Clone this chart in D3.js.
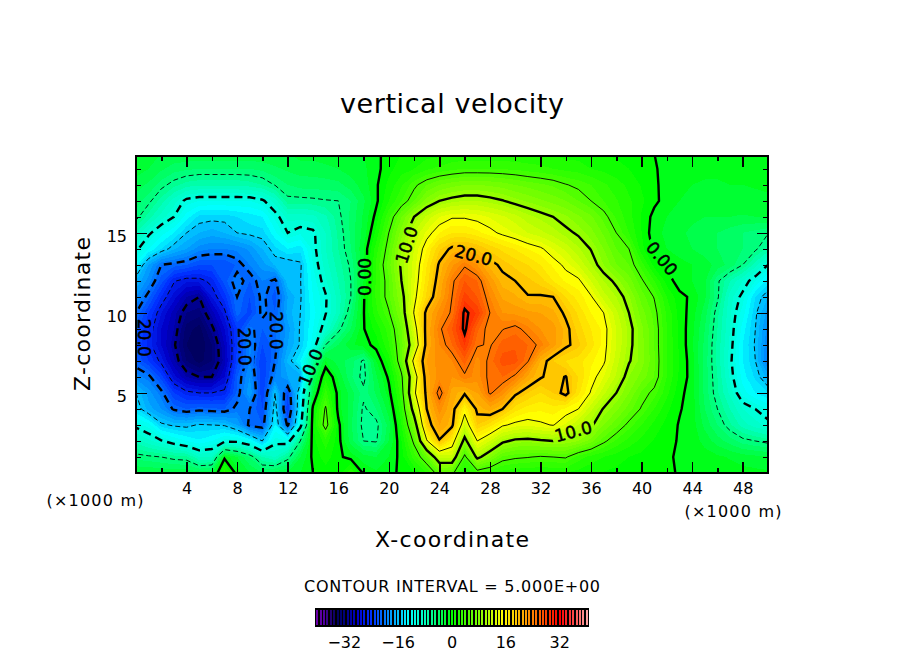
<!DOCTYPE html>
<html>
<head>
<meta charset="utf-8">
<title>vertical velocity</title>
<script src="https://cdn.jsdelivr.net/npm/d3@7"></script>
<style>
  html, body { margin: 0; background: #fff; }
  svg { display: block; }
  text { font-family: "DejaVu Sans", sans-serif; fill: #000; }
  .axis path { display: none; }
  .axis line { stroke: #000; stroke-width: 1.5; shape-rendering: crispEdges; }
  .axis text { font-size: 16px; }
</style>
</head>
<body>
<svg id="chart" width="904" height="654"></svg>
<script>
// grid rows, x = 0..50 km every 1 km, one row per km of height
var z20 = [-1,-1,-2,-2,-2,-2,-2,-2,-2,-2,-2,-2,-2,-1.5,-1.5,-1.5,-1,-1,-1,-.3,.5,1,1.2,1.5,1.5,2,2,2,2,2,2,2,2,1.8,1.5,1.5,1.2,1,.8,.5,.3,0,-.2,-.3,-.5,-.5,-.5,-.5,-.5,-.5,-.5];
var z19 = [-1.5,-2,-2.8,-3.5,-3.8,-4,-4,-4,-4,-4,-3.7,-3.2,-2.8,-2.5,-2.5,-2.2,-2,-1.5,-1.2,-.4,.7,1.5,2,2.8,3.3,3.7,4,4,4,3.9,3.8,3.5,3.3,3,2.7,2.5,2,1.7,1.3,1,.6,.1,-.3,-.6,-.8,-.8,-.8,-.7,-.6,-.5,-.5];
var z18 = [-2.5,-3.2,-4.5,-5.6,-6.5,-6.8,-6.8,-6.8,-6.8,-6.5,-6,-4.9,-4,-3.6,-3.5,-3.5,-3.3,-2.5,-1.5,-.2,1.3,2.8,4.6,6,7,7.6,8,8,7.8,7.5,7,6.6,6.2,5.8,5.1,4.6,4,3.2,2.5,1.7,.9,.2,-.4,-.8,-1,-1.1,-1.1,-1,-1,-.9,-.8];
var z17 = [-3.5,-4.6,-6.5,-8.5,-10.5,-11,-11,-11,-11,-11,-10.3,-8.5,-5.4,-5.4,-5.3,-5.1,-5,-4,-2.2,-.3,2,4,6,8.5,10,10.6,11,11,10.6,10.1,9.4,8.8,8.2,7.6,7,6,5,4,3.1,2.2,1.2,.3,-.5,-1,-1.3,-1.5,-1.5,-1.4,-1.4,-1.3,-1.2];
var z16 = [-4.5,-6.5,-8.5,-10,-12.5,-14.3,-14.5,-14.5,-14,-13.5,-13,-10.7,-8.6,-8.6,-8.3,-7.2,-5.4,-3.7,-1.8,.4,3.8,7,10,12.3,14,14.8,14.8,14.5,13.9,13.2,12.4,11.4,10.7,10,9.2,8.2,7.2,5.6,3.8,2.4,.9,-.4,-1,-1.5,-1.8,-2,-2,-2,-2.1,-2,-1.8];
var z15 = [-7,-9.6,-11.5,-13,-15,-16,-16.5,-16,-15,-14.6,-14.4,-12.3,-10,-10.8,-10.4,-8,-5.8,-3.8,-1.6,1.3,5,8.5,12,14.3,16,17,17,16.3,15.5,14.6,13.9,13,12.3,11.5,10.5,9.7,8.4,6.8,5,3,1,-.7,-1.2,-1.8,-2.2,-2.6,-3,-3.5,-4,-4.4,-4.9];
var z14 = [-9.5,-12,-14,-15.8,-17,-18.5,-19,-19,-18.7,-17.7,-16,-14.3,-13,-13.6,-10.6,-8,-6,-4,-1,2.5,5.8,10,13,16,18.8,20.4,20.7,20,18.7,17.7,16.9,16,15.3,14,12.7,11.2,9.9,8,6,5,1.3,-.3,-1,-1.5,-2,-2.5,-3,-3.5,-4,-4.7,-6.4];
var z13 = [-12.5,-17,-20,-20.5,-21,-22,-22,-22,-20.8,-19,-17.5,-15.8,-16,-15.3,-11,-8.5,-6.5,-4.7,-1.2,3.2,6.5,10.4,13.5,17,20.3,22.7,24.7,23,20.6,19.6,18.7,18,17,15.8,14.6,13,11,9,7.1,6,3.5,.6,-.2,-.6,-1,-1.5,-2.4,-3.4,-5,-7.5,-10];
var z12 = [-16,-18.5,-21.5,-24.8,-25.8,-25.6,-24.5,-21.5,-19,-21,-19,-20.5,-15.3,-15.1,-11.6,-9.2,-7,-5,-1,3.2,5.8,10,13.8,17.5,21,24.6,27,26,22.7,20.5,20,19.3,18.5,17,15.8,15.4,13,11,9.5,7.5,5.3,3,.5,-.5,-1,-1.8,-4.7,-7,-9,-11,-13.5];
var z11 = [-18,-20.7,-24,-26.5,-29,-30,-26,-23.5,-20,-22,-19.5,-21.5,-17,-15.2,-12,-10.2,-7.5,-5,-.2,3.2,5.8,9,14.3,18.3,21.7,25,28.5,27,24,21.8,21.2,20.1,20.2,20,18,16.5,15.2,12.5,11,9.2,6.5,4.9,2,.3,-.2,-1.8,-4.7,-8.5,-10.5,-14,-16];
var z10 = [-20,-23,-26,-28.5,-31,-31.5,-28.5,-25.5,-20.5,-22.5,-19.5,-21,-16.5,-15,-12.5,-10.1,-7.5,-4,-.1,2.7,4.8,8.2,15.2,20.7,23.5,25.3,30.5,28.8,25,23,22.7,22.3,22,21.3,19.6,17.8,16,15,12.3,10,7.5,5.6,2.8,.6,-.5,-2.5,-5.7,-8.8,-11.5,-14.7,-17.5];
var z9 = [-21.5,-24,-27,-29,-32.5,-33.5,-30.5,-27,-23,-19.5,-21,-20,-17.5,-14.8,-12,-9,-5.5,-3,-.1,1.4,3.5,7,13.5,21,24.6,27,30.5,26.3,24.2,24.9,25.6,24.3,23,22.5,20.6,18.5,17,15.7,13,10.7,8.3,6,3,.7,-.7,-3,-6,-9,-12.5,-15,-18.5];
var z8 = [-22,-24.4,-27,-29.7,-33,-34,-32,-28,-23,-18.5,-22,-20.5,-17,-14.8,-11.5,-5,-3,-1.2,-.5,.4,2.9,6.5,12,21,24,26,29,25.2,24.8,26.5,26.8,26,24.5,22.5,20.4,19.3,17.5,15.6,13,10.6,8.4,6,3,.8,-.8,-3.3,-6.3,-9.3,-13,-15.2,-19];
var z7 = [-21,-23,-25.5,-28.8,-32,-33.5,-32,-28.5,-22.5,-19,-23,-20,-15.8,-13,-6,-1,-2.5,-3.5,-5.3,-1,1.4,6.5,16,22,23.5,24,26.5,23.5,25.5,27.5,27.5,25.2,21,19,18,17.5,16.2,15.3,12.5,10.2,8.5,6.2,3,.9,-.6,-3.4,-6.3,-9.6,-13,-15,-19.5];
var z6 = [-18.5,-19.5,-22.5,-26.5,-29,-30,-30,-27,-21,-18,-23,-19,-17,-16.5,-3.5,1.5,-1.2,-3.8,-5.5,-2.2,.3,4.5,13,21.5,23.5,23,24.6,23.5,25.5,26,24.6,21.7,20.2,19.3,20.1,18,15.7,14,11.8,9,7.6,6,3,.8,-.5,-3.4,-6,-9.2,-12.5,-14.2,-16.5];
var z5 = [-15,-17.5,-19.5,-23,-24.5,-25,-25,-24.5,-20.8,-17,-23,-15,-22,-13,-2,3.5,-.5,-2.5,-4.6,-2.8,-.5,3.7,14.3,20.7,26,21.5,20.3,22,25.3,23.5,20.4,19,18,19,20.7,17.3,14.8,12.3,10,8,5.8,4.5,2.3,.3,-.5,-3.3,-5.8,-8.3,-11.5,-13,-14];
var z4 = [-14,-16.5,-18,-20.3,-21,-20.5,-20.8,-21,-19.5,-20,-22,-14,-23,-12.5,.5,5.3,-.5,-2.5,-5.3,-4,-1.5,2.8,11.5,20,23.5,21,16,20.5,21.5,20,17.5,16.5,16.2,16.5,15.8,15,12.3,9.8,8.3,6.5,4.8,3,1.3,.1,-.5,-3,-5,-7,-9,-10,-11];
var z3 = [-10.5,-11.5,-14.6,-15.3,-15.5,-14.8,-15,-15.2,-17,-20.5,-21,-13,-20.5,-11,1,6,.4,-2.8,-5.5,-5.5,-2.5,2,8,18.8,22,20.5,13,19,17.5,15.3,14.5,14.2,14.7,15.1,13.8,12,10.4,8,6.3,4.5,3,1.7,.6,-.1,-.5,-2.3,-4,-5.8,-7.5,-8.5,-9.5];
var z2 = [-7.5,-8.7,-9.8,-11,-12,-12.8,-12,-10.5,-10.5,-12,-15,-10.5,-11,-5,.6,2.5,.5,-2.5,-5,-5.2,-2,1,5.5,14.7,19.8,16.5,9,15,13,10.5,9.5,9.3,9.7,10,9.7,9,7.5,5.4,3.8,2.6,1.7,.9,.3,-.1,-.4,-1.4,-2.5,-3.5,-4.5,-5,-5.5];
var z1 = [-4.4,-4.7,-5,-5.5,-5.7,-8,-8,-.3,-2,-4,-7,-8,-5.6,-2,.3,1.5,.3,-.5,-1.5,-2,-1,.5,3.5,6.5,12.3,12.5,4.3,10.7,8.3,5.8,5.3,5.1,4.8,5,5.2,3.5,2.6,2,1.5,1,.7,.4,.1,-.1,-.2,-.5,-.8,-1.1,-1.5,-1.7,-1.9];
var z0 = [-2,-2,-2.2,-2.2,-2.2,-2.5,-2,2.5,-.5,-2,-3,-2.5,-2,-1,0,.5,.2,3,-.2,-.8,-.3,.2,1,3,6,5.5,2,3.8,3.2,2.5,2.2,2,2,2,2,1.6,1.2,.9,.7,.5,.3,.2,.1,-.05,-.1,-.2,-.3,-.5,-.6,-.7,-.8];

var rows = [z20, z19, z18, z17, z16, z15, z14, z13, z12, z11, z10, z9, z8, z7, z6, z5, z4, z3, z2, z1, z0];

var xTicks = [4, 8, 12, 16, 20, 24, 28, 32, 36, 40, 44, 48];
var xMinorTicks = [2, 6, 10, 14, 18, 22, 26, 30, 34, 38, 42, 46, 50];
var zTicks = [5, 10, 15];
var zMinorTicks = [1, 2, 3, 4, 6, 7, 8, 9, 11, 12, 13, 14, 16, 17, 18, 19];
var barTicks = [-32, -16, 0, 16, 32];
var lineLevels = [-30, -25, -20, -15, -10, -5, 0, 5, 10, 15, 20, 25, 30];

var labelTexts = ["20.0", "20.0", "20.0", "10.0", "0.00", "10.0", "20.0", "10.0", "0.00"];
var labelX = [0.65, 8.6, 11.1, 13.8, 18.1, 21.4, 26.7, 34.6, 41.6];
var labelZ = [8.45, 7.9, 8.9, 6.6, 12.25, 14.25, 13.6, 2.6, 13.4];
var labelAngle = [90, 88, 90, -68, -90, -72, 15, -15, 50];

var colorStops = [-40, -38, -36, -34, -32, -28, -24, -20, -16, -13, -8, -4, 0, 8, 15, 24, 32, 36, 40];
var colorValues = ["#6a00a8", "#5000a0", "#200070", "#000060", "#00007a", "#0000c8", "#0030ff", "#0078ff", "#00beff", "#00ffff", "#00ffbe", "#00ff64", "#00ff00", "#82ff00", "#ffff00", "#ff8000", "#ff0000", "#ff4646", "#ffa0a0"];

var color = d3.scaleLinear().domain(colorStops).range(colorValues);
var levels = d3.range(-40, 41);

var x = d3.scaleLinear().domain([0, 50]).range([136, 768]);
var z = d3.scaleLinear().domain([0, 19.8]).range([473, 156]);
var bar = d3.scaleLinear().domain([-40.4, 40.4]).range([316, 588]);

var svg = d3.select("#chart");
var defs = svg.append("defs");

defs.append("clipPath").attr("id", "plot-clip").append("rect")
  .attr("x", x(0)).attr("y", z(19.8))
  .attr("width", x(50) - x(0)).attr("height", z(0) - z(19.8));

// contour labels knock a hole in the lines
var mask = defs.append("mask").attr("id", "label-gaps").attr("maskUnits", "userSpaceOnUse")
  .attr("x", 0).attr("y", 0).attr("width", 904).attr("height", 654);
mask.append("rect").attr("width", 904).attr("height", 654).attr("fill", "#fff");
mask.selectAll("rect.gap").data(labelTexts).enter().append("rect")
  .attr("class", "gap")
  .attr("x", -22).attr("y", -9).attr("width", 44).attr("height", 18)
  .attr("fill", "#000")
  .attr("transform", function (d, i) { return "translate(" + x(labelX[i]) + "," + z(labelZ[i]) + ") rotate(" + labelAngle[i] + ")"; });

// d3.contours puts grid node i at i + 0.5
var toPlot = d3.geoTransform({
  point: function (gx, gy) {
    this.stream.point(x(gx - 0.5), z(20 - (gy - 0.5)));
  }
});
var path = d3.geoPath(toPlot);
var grid = d3.merge(rows);
var contour = d3.contours().size([rows[0].length, rows.length]);

var plot = svg.append("g").attr("clip-path", "url(#plot-clip)");

plot.append("rect")
  .attr("x", x(0)).attr("y", z(19.8))
  .attr("width", x(50) - x(0)).attr("height", z(0) - z(19.8))
  .attr("fill", color(-40));

plot.append("g").attr("shape-rendering", "crispEdges")
  .selectAll("path")
  .data(contour.thresholds(levels)(grid))
  .enter().append("path")
    .attr("d", path)
    .attr("fill", function (d) { return color(d.value); });

plot.append("g").attr("mask", "url(#label-gaps)")
  .selectAll("path")
  .data(contour.thresholds(lineLevels)(grid))
  .enter().append("path")
    .attr("d", path)
    .attr("fill", "none")
    .attr("stroke", "#000")
    .attr("stroke-width", function (d) { return d.value % 10 === 0 ? 2.4 : 0.9; })
    .attr("stroke-dasharray", function (d) {
      if (d.value >= 0) return null;
      return d.value % 10 === 0 ? "8,5" : "5,3";
    });

svg.append("g").selectAll("text")
  .data(labelTexts)
  .enter().append("text")
    .attr("text-anchor", "middle")
    .attr("dy", "0.36em")
    .attr("font-size", 17)
    .attr("textLength", 38)
    .attr("stroke", "#000")
    .attr("stroke-width", 0.5)
    .attr("transform", function (d, i) { return "translate(" + x(labelX[i]) + "," + z(labelZ[i]) + ") rotate(" + labelAngle[i] + ")"; })
    .text(function (d) { return d; });

// frame and inward ticks on all four sides
function addAxis(axis, dx, dy, labelled) {
  var g = svg.append("g").attr("class", "axis")
    .attr("transform", "translate(" + dx + "," + dy + ")")
    .call(axis);
  if (!labelled) g.selectAll("text").remove();
  return g;
}

addAxis(d3.axisBottom(x).tickValues(xTicks).tickSizeInner(-11).tickPadding(10).tickFormat(d3.format("d")), 0, z(0), true)
  .selectAll("text").attr("dy", "0.71em");
addAxis(d3.axisBottom(x).tickValues(xMinorTicks).tickSizeInner(-5), 0, z(0), false);
addAxis(d3.axisTop(x).tickValues(xTicks).tickSizeInner(-11), 0, z(19.8), false);
addAxis(d3.axisTop(x).tickValues(xMinorTicks).tickSizeInner(-5), 0, z(19.8), false);
addAxis(d3.axisLeft(z).tickValues(zTicks).tickSizeInner(-11).tickPadding(9).tickFormat(d3.format("d")), x(0), 0, true)
  .selectAll("text").attr("dy", "0.52em");
addAxis(d3.axisLeft(z).tickValues(zMinorTicks).tickSizeInner(-5), x(0), 0, false);
addAxis(d3.axisRight(z).tickValues(zTicks).tickSizeInner(-11), x(50), 0, false);
addAxis(d3.axisRight(z).tickValues(zMinorTicks).tickSizeInner(-5), x(50), 0, false);

svg.append("rect")
  .attr("x", x(0)).attr("y", z(19.8))
  .attr("width", x(50) - x(0)).attr("height", z(0) - z(19.8))
  .attr("fill", "none").attr("stroke", "#000").attr("stroke-width", 2)
  .attr("shape-rendering", "crispEdges");

// titles, stretched to the width they have in the picture
function label(txt, cx, cy, size, width, angle) {
  return svg.append("text")
    .attr("transform", "translate(" + cx + "," + cy + ")" + (angle ? " rotate(" + angle + ")" : ""))
    .attr("text-anchor", "middle")
    .attr("font-size", size)
    .attr("textLength", width)
    .attr("lengthAdjust", "spacing")
    .text(txt);
}

label("vertical velocity", 452, 113, 27, 224);
label("X-coordinate", 452, 547, 22, 154);
label("Z-coordinate", 90, 314, 22, 154, -90);
label("(\u00d71000 m)", 95, 506, 16, 97);
label("(\u00d71000 m)", 733, 517, 16, 97);
label("CONTOUR INTERVAL = 5.000E+00", 452, 592, 16, 296);

// colour bar: one stripe per unit on a black ground
var barY = 608, barH = 19;
svg.append("rect")
  .attr("x", bar.range()[0] - 1).attr("y", barY)
  .attr("width", bar.range()[1] - bar.range()[0] + 2).attr("height", barH)
  .attr("fill", "#000");
svg.append("g").attr("shape-rendering", "crispEdges")
  .selectAll("rect")
  .data(levels)
  .enter().append("rect")
    .attr("x", function (d) { return bar(d) - 1; })
    .attr("y", barY + 2)
    .attr("width", 2)
    .attr("height", barH - 4)
    .attr("fill", function (d) { return color(d); });

svg.append("g").selectAll("text")
  .data(barTicks)
  .enter().append("text")
    .attr("x", function (d) { return bar(d); })
    .attr("y", 648)
    .attr("text-anchor", "middle")
    .attr("font-size", 16)
    .text(function (d) { return d3.format("d")(d); });
</script>
</body>
</html>
